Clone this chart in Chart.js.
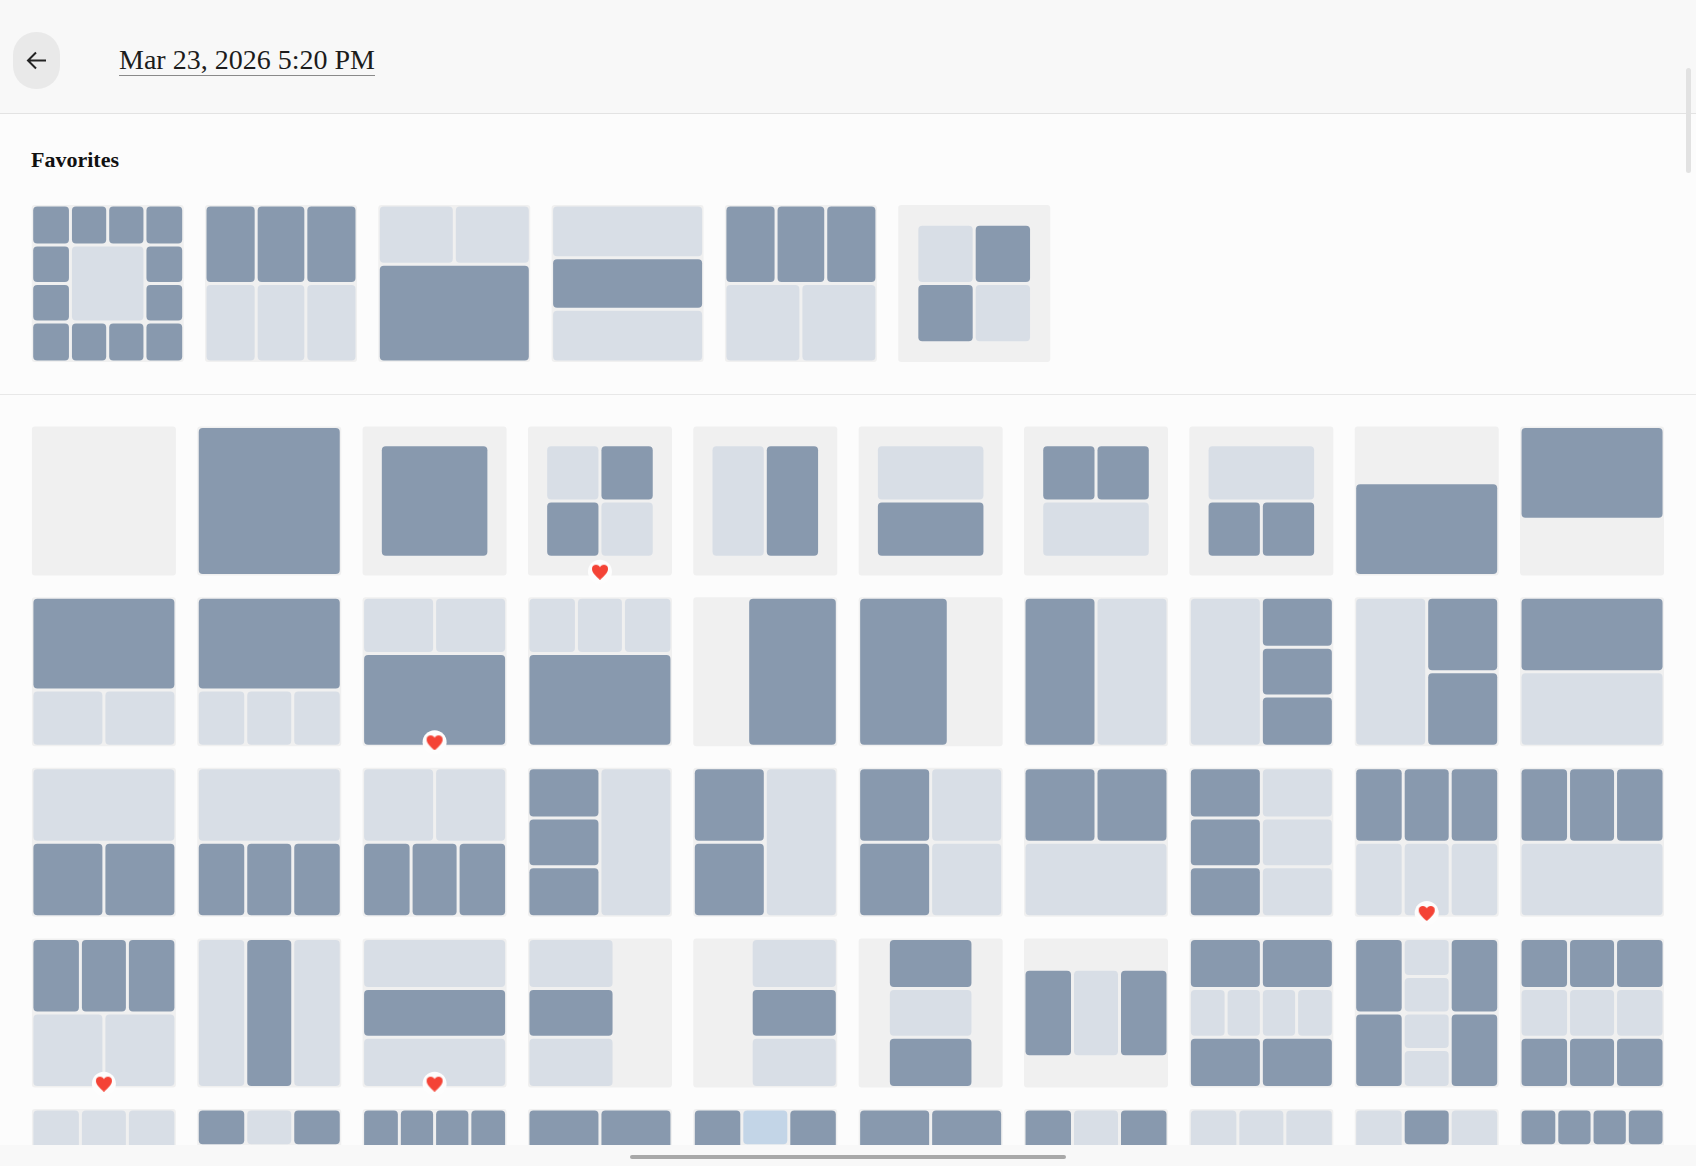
<!DOCTYPE html>
<html lang="en">
<head>
<meta charset="utf-8">
<title>Layouts</title>
<script src="https://cdn.jsdelivr.net/npm/chart.js@4"></script>
<style>
html,body{margin:0;padding:0;width:1696px;height:1166px;overflow:hidden;background:#fcfcfc}
#top{position:absolute;left:0;top:0;width:1696px;height:113px;background:#f8f8f8;border-bottom:1px solid #e3e3e3}
#back{position:absolute;left:13px;top:32px;width:47px;height:57px;border-radius:23px;background:#e9e9e9}
#back svg{position:absolute;left:13px;top:18px}
#when{position:absolute;left:119px;top:44px;font:400 28px/31px "Liberation Serif",serif;color:#1c1c1c;border-bottom:1px solid #8a8a8a;height:31px;white-space:nowrap}
#fav{position:absolute;left:31px;top:147px;font:700 22px/26px "Liberation Serif",serif;color:#111;white-space:nowrap}
#sep{position:absolute;left:0;top:394px;width:1696px;height:1px;background:#e8e8e8}
#vbar{position:absolute;left:1686px;top:68px;width:5px;height:105px;border-radius:3px;background:#e2e2e2;z-index:3}
#foot{position:absolute;left:0;top:1145px;width:1696px;height:21px;background:#f8f8f8;z-index:2}
#hbar{position:absolute;left:630px;top:1155px;width:436px;height:4px;border-radius:2px;background:#a8a8a8;z-index:3}
#c{position:absolute;left:0;top:0;z-index:1}
</style>
</head>
<body>
<div id="top"></div>
<div id="back"><svg width="21" height="21" viewBox="0 0 21 21" fill="none" stroke="#222" stroke-width="2"><path d="M20 10.5H2M10 2.5L2 10.5L10 18.5"/></svg></div>
<div id="when">Mar 23, 2026 5:20 PM</div>
<div id="fav">Favorites</div>
<div id="sep"></div>
<canvas id="c" width="1696" height="1145"></canvas>
<div id="foot"></div>
<div id="hbar"></div>
<div id="vbar"></div>
<script>
// weights shared by layouts
const P3=[.115,.77,.115], P4=[.115,.385,.385,.115];
const T=[.375,.625], B=[.625,.375], L=[.375,.625], R=[.625,.375];
const N=[.4,.6], W=[.6,.4], C3=[.2,.6,.2], E=[.24,.76];

// layout = [grid, column weights, row weights]; same letter = one cell,
// UPPER = dark, lower = light, 1 = blue, . = empty
const favorites=[['ABCD/EggF/HggI/JKLM'],['ABC/def'],['ab/CC',null,T],['a/B/c'],['AABBCC/dddeee'],['..../.aB./.Cd./....',P4,P4]];
const gridRow0=[['.'],['A'],['.../.A./...',P3,P3],['..../.aB./.Cd./....',P4,P4],['..../.aB./.aB./....',P4,P4],['..../.aa./.BB./....',P4,P4],['..../.AB./.cc./....',P4,P4],['..../.aa./.BC./....',P4,P4],['./A',null,T],['A/.',null,B]];
const gridRow1=[['AA/bc',null,B],['AAA/bcd',null,B],['ab/CC',null,T],['abc/DDD',null,T],['.A',L],['A.',R],['Ab'],['aB/aC/aD'],['aB/aC'],['A/b']];
const gridRow2=[['aa/BC'],['aaa/BCD'],['aaabbb/CCDDEE'],['Ad/Bd/Cd'],['Ac/Bc'],['Ac/Bd'],['AB/cc'],['Ad/Be/Cf'],['ABC/def'],['ABC/ddd']];
const gridRow3=[['AABBCC/dddeee'],['aBc'],['a/B/c'],['a./B./c.',W],['.a/.B/.c',N],['.A./.b./.C.',C3],['.../AbC/...',null,C3],['AAAABBBB/ccddeeff/GGGGHHHH'],['AbE/AcE/BdF/BgF'],['ABC/def/GHI']];
const gridRow4=[['abc/abc',null,E],['AbC/...',null,E],['ABCD/ABCD',null,E],['AB/AB',null,E],['A1B/A.B',null,E],['AB/AB',null,E],['AbC/AbC',null,E],['abc/abc',null,E],['aBc/a.c',null,E],['ABCD/....',null,E]];
const gridRows=[gridRow0,gridRow1,gridRow2,gridRow3,gridRow4];
const favoriteHearts=[[3,0],[2,1],[8,2],[0,3],[2,3]]; // [column,row] of favourited layouts

const COL={dark:'#8899ae',light:'#d8dee6',blue:'#c3d5e7',bg:'#f0f0f0'};
const groups=new Map();
function addRect(x0,y0,x1,y1,tone,radius){
  const w=x1-x0,key=tone+'|'+w.toFixed(2)+'|'+radius;
  if(!groups.has(key))groups.set(key,{tone,w,radius,data:[]});
  groups.get(key).data.push({x:(x0+x1)/2,y:[y0,y1]});
}
function cum(ws,n){
  const a=ws||Array(n).fill(1/n);let s=0;const o=[0];
  a.forEach(v=>{s+=v;o.push(s);});return o;
}
function addThumb(spec,X,Y,W_,H_){
  addRect(X,Y,X+W_,Y+H_,'bg',3);
  const [grid,cw,rw]=spec, rows=grid.split('/'), nr=rows.length, nc=rows[0].length;
  const cx=cum(cw,nc), cy=cum(rw,nr), box={};
  rows.forEach((r,j)=>[...r].forEach((ch,i)=>{
    if(ch==='.')return;
    const b=box[ch]||(box[ch]={i0:i,i1:i,j0:j,j1:j});
    b.i0=Math.min(b.i0,i);b.i1=Math.max(b.i1,i);b.j0=Math.min(b.j0,j);b.j1=Math.max(b.j1,j);
  }));
  const ins=1.5,iw=W_-2*ins,ih=H_-2*ins;
  Object.entries(box).forEach(([ch,b])=>{
    const l=b.i0===0?0:1.5,r=b.i1===nc-1?0:1.5,t=b.j0===0?0:1.5,bo=b.j1===nr-1?0:1.5;
    const tone=ch==='1'?'blue':(ch===ch.toUpperCase()?'dark':'light');
    addRect(X+ins+cx[b.i0]*iw+l,Y+ins+cy[b.j0]*ih+t,X+ins+cx[b.i1+1]*iw-r,Y+ins+cy[b.j1+1]*ih-bo,tone,4);
  });
}
const favX=31.7,favPitch=173.3,favY=205,favW=152,favH=157;
favorites.forEach((s,i)=>addThumb(s,favX+i*favPitch,favY,favW,favH));
const gX=31.9,gPitchX=165.35,gY=426.5,gPitchY=170.65,gW=144,gH=149;
gridRows.forEach((row,j)=>row.forEach((s,i)=>addThumb(s,gX+i*gPitchX,gY+j*gPitchY,gW,gH)));

// heart marker
const heart=document.createElement('canvas');heart.width=18;heart.height=16;
(()=>{const g=heart.getContext('2d');g.fillStyle='#f44336';g.beginPath();
  g.moveTo(9,16);g.bezierCurveTo(4,11.5,1,9,1,5);g.bezierCurveTo(1,2,3,1,5,1);g.bezierCurveTo(7,1,8.4,2.2,9,3.6);
  g.bezierCurveTo(9.6,2.2,11,1,13,1);g.bezierCurveTo(15,1,17,2,17,5);g.bezierCurveTo(17,9,14,11.5,9,16);g.fill();})();
const heartPoints=favoriteHearts.map(([i,j])=>({x:gX+i*gPitchX+gW/2,y:gY+j*gPitchY+gH-3.8}));

const datasets=[...groups.values()].map(g=>({
  type:'bar',data:g.data,barThickness:g.w,backgroundColor:COL[g.tone],borderWidth:0,
  borderRadius:g.radius,borderSkipped:false,inflateAmount:0,order:g.tone==='bg'?5:4
}));
datasets.push({type:'scatter',data:heartPoints,pointStyle:'circle',pointRadius:12,backgroundColor:'#fdfdfd',borderWidth:0,order:2});
datasets.push({type:'scatter',data:heartPoints,pointStyle:heart,pointRadius:8,order:1});

new Chart(document.getElementById('c'),{
  type:'bar',
  data:{datasets},
  options:{
    responsive:false,animation:false,devicePixelRatio:1,
    events:[],layout:{padding:0,autoPadding:false},
    plugins:{legend:{display:false},tooltip:{enabled:false},title:{display:false}},
    scales:{
      x:{type:'linear',min:0,max:1696,offset:false,stacked:true,display:false},
      y:{type:'linear',min:0,max:1145,reverse:true,stacked:false,display:false}
    }
  }
});
</script>
</body>
</html>
